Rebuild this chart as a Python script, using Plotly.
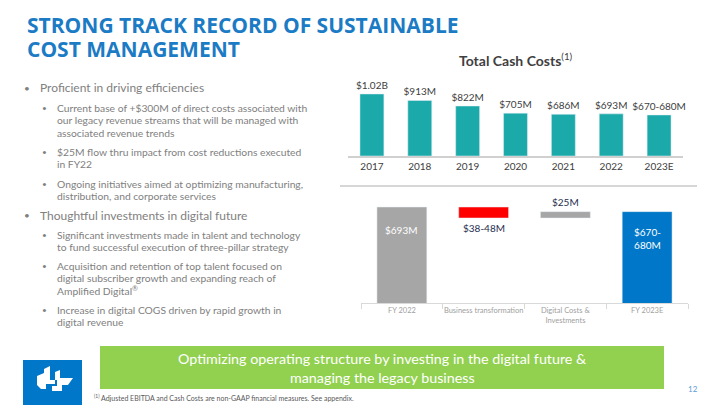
import plotly.graph_objects as go

# ---------------- data ----------------
years = ["2017", "2018", "2019", "2020", "2021", "2022", "2023E"]
cash_costs = [1020, 913, 822, 705, 686, 693, 675]
cash_labels = ["$1.02B", "$913M", "$822M", "$705M", "$686M", "$693M", "$670-680M"]

bridge_cats = ["FY 2022", "Business transformation", "Digital Costs &<br>Investments", "FY 2023E"]
bridge_measure = ["total", "relative", "relative", "total"]
bridge_values = [693, -43, 25, 675]
bridge_labels = ["$693M", "$38-48M", "$25M", "$670-<br>680M"]
bridge_colors = ["#A6A6A6", "#FF0000", "#A6A6A6", "#0077C8"]

W, H = 720, 405


def px(x):
    return x / W


def py(y):
    return 1 - y / H


# waterfall geometry from values
bases, heights = [], []
running = 0
for m, v in zip(bridge_measure, bridge_values):
    if m == "total":
        bases.append(0)
        heights.append(v)
        running = v
    else:
        bases.append(running)
        heights.append(v)
        running += v

fig = go.Figure()

fig.add_trace(go.Bar(
    x=years, y=cash_costs, text=cash_labels, textposition="outside",
    constraintext="none", cliponaxis=False,
    textfont=dict(family="Lato", size=10, color="#404040"),
    marker=dict(color="#1BAAA9"), width=0.5,
    xaxis="x", yaxis="y", showlegend=False, hoverinfo="skip",
))

fig.add_trace(go.Bar(
    x=bridge_cats, y=heights, base=bases,
    marker=dict(color=bridge_colors), width=0.61,
    xaxis="x2", yaxis="y2", showlegend=False, hoverinfo="skip",
))

annotations = []
# waterfall labels
wf_specs = [
    (bases[0] + heights[0], "top", -15, "white"),
    (bases[1] + heights[1], "top", -2, "#1F2D4F"),
    (bases[2] + heights[2], "bottom", 2, "#1F2D4F"),
    (bases[3] + heights[3], "top", -12, "white"),
]
for cat, lab, (yv, anc, sh, col) in zip(bridge_cats, bridge_labels, wf_specs):
    annotations.append(dict(x=cat, y=yv, xref="x2", yref="y2", text=lab, showarrow=False,
                            yanchor=anc, yshift=sh,
                            font=dict(family="Lato", size=10, color=col)))

# title
annotations.append(dict(x=px(25), y=py(25), xref="paper", yref="paper", xanchor="left", yanchor="middle",
                        text="<b>STRONG TRACK RECORD OF SUSTAINABLE</b>", showarrow=False,
                        font=dict(family="Open Sans", size=21, color="#1B7BC4")))
annotations.append(dict(x=px(25), y=py(49), xref="paper", yref="paper", xanchor="left", yanchor="middle",
                        text="<b>COST MANAGEMENT</b>", showarrow=False,
                        font=dict(family="Open Sans", size=21, color="#1B7BC4")))

# chart title
annotations.append(dict(x=px(516), y=py(59), xref="paper", yref="paper", xanchor="center", yanchor="middle",
                        text="<b>Total Cash Costs</b><sup>(1)</sup>", showarrow=False,
                        font=dict(family="Lato", size=14, color="#404040")))

# bullets: (level, text lines, y of first line)
bullets = [
    (1, ["Proficient in driving efficiencies"], 88),
    (2, ["Current base of +$300M of direct costs associated with",
         "our legacy revenue streams that will be managed with",
         "associated revenue trends"], 108),
    (2, ["$25M flow thru impact from cost reductions executed", "in FY22"], 152),
    (2, ["Ongoing initiatives aimed at optimizing manufacturing,",
         "distribution, and corporate services"], 184),
    (1, ["Thoughtful investments in digital future"], 215),
    (2, ["Significant investments made in talent and technology",
         "to fund successful execution of three-pillar strategy"], 235),
    (2, ["Acquisition and retention of top talent focused on",
         "digital subscriber growth and expanding reach of",
         "Amplified Digital<sup>®</sup>"], 266),
    (2, ["Increase in digital COGS driven by rapid growth in", "digital revenue"], 310),
]
for lvl, lines, y0 in bullets:
    if lvl == 1:
        bx, tx, fs, lh = 27, 38, 12, 15
    else:
        bx, tx, fs, lh = 44, 55, 10.3, 12.3
    annotations.append(dict(x=px(bx), y=py(y0), xref="paper", yref="paper", xanchor="center", yanchor="middle",
                            text="•", showarrow=False, font=dict(family="Lato", size=fs - 2, color="#808080")))
    for i, ln in enumerate(lines):
        annotations.append(dict(x=px(tx), y=py(y0 + i * lh), xref="paper", yref="paper",
                                xanchor="left", yanchor="middle", text=ln, showarrow=False,
                                font=dict(family="Lato", size=fs, color="#808080")))

# banner text
annotations.append(dict(x=px(382), y=py(358), xref="paper", yref="paper", xanchor="center", yanchor="middle",
                        text="Optimizing operating structure by investing in the digital future &", showarrow=False,
                        font=dict(family="Lato", size=14.3, color="white")))
annotations.append(dict(x=px(382), y=py(377), xref="paper", yref="paper", xanchor="center", yanchor="middle",
                        text="managing the legacy business", showarrow=False,
                        font=dict(family="Lato", size=14.3, color="white")))
# footnote
annotations.append(dict(x=px(92), y=py(397), xref="paper", yref="paper", xanchor="left", yanchor="middle",
                        text="<sup>(1)</sup> Adjusted EBITDA and Cash Costs are non-GAAP financial measures. See appendix.",
                        showarrow=False, font=dict(family="Lato", size=7, color="#595959")))
# page number
annotations.append(dict(x=px(693), y=py(389), xref="paper", yref="paper", xanchor="center", yanchor="middle",
                        text="12", showarrow=False, font=dict(family="Lato", size=8, color="#5B9BD5")))


def path(points):
    s = "M " + " L ".join(f"{px(x):.5f},{py(y):.5f}" for x, y in points) + " Z"
    return s


shapes = [
    # separator under bar chart
    dict(type="line", xref="paper", yref="paper", x0=px(340), x1=px(697), y0=py(186), y1=py(186),
         line=dict(color="#C8C8C8", width=1.5)),
    # green banner
    dict(type="rect", xref="paper", yref="paper", x0=px(100), x1=px(664), y0=py(389), y1=py(346),
         fillcolor="#92D050", line=dict(width=0), layer="below"),
    # logo square
    dict(type="rect", xref="paper", yref="paper", x0=px(23), x1=px(82), y0=py(405), y1=py(360),
         fillcolor="#0077C8", line=dict(width=0)),
    # logo white pieces
    dict(type="path", xref="paper", yref="paper", fillcolor="white", line=dict(width=0),
         path=path([(37, 376), (44, 373), (44, 369), (50, 366), (50, 380), (55, 380), (55, 384),
                    (46, 384), (46, 389), (41, 389), (37, 385)])),
    dict(type="path", xref="paper", yref="paper", fillcolor="white", line=dict(width=0),
         path=path([(55, 372), (60, 370), (60, 378), (73, 378), (68, 385), (62, 385), (62, 391),
                    (52, 391), (52, 386), (57, 386), (57, 380), (55, 380)])),
]

fig.update_layout(
    width=W, height=H, margin=dict(l=0, r=0, t=0, b=0),
    paper_bgcolor="white", plot_bgcolor="white",
    bargap=0.5,
    xaxis=dict(domain=[px(348), px(683)], anchor="y", showline=True, linecolor="#D0D0D0", linewidth=1.5,
               ticks="", tickfont=dict(family="Lato", size=10, color="#404040"), showgrid=False),
    yaxis=dict(domain=[py(156), py(80)], anchor="x", range=[0, 1250], visible=False, showgrid=False),
    xaxis2=dict(domain=[px(361), px(688)], anchor="y2", showline=True, linecolor="#D9D9D9", linewidth=1,
                ticks="outside", tickson="boundaries", ticklen=5, tickcolor="#D9D9D9", tickangle=0,
                tickfont=dict(family="Lato", size=7.5, color="#A0A0A0"), showgrid=False),
    yaxis2=dict(domain=[py(303), py(195)], anchor="x2", range=[318, 740], visible=False, showgrid=False),
    annotations=annotations, shapes=shapes,
)

fig.write_html("out.html", config={"displayModeBar": False},
               post_script="document.body.style.margin='0';document.body.style.overflow='hidden';")
